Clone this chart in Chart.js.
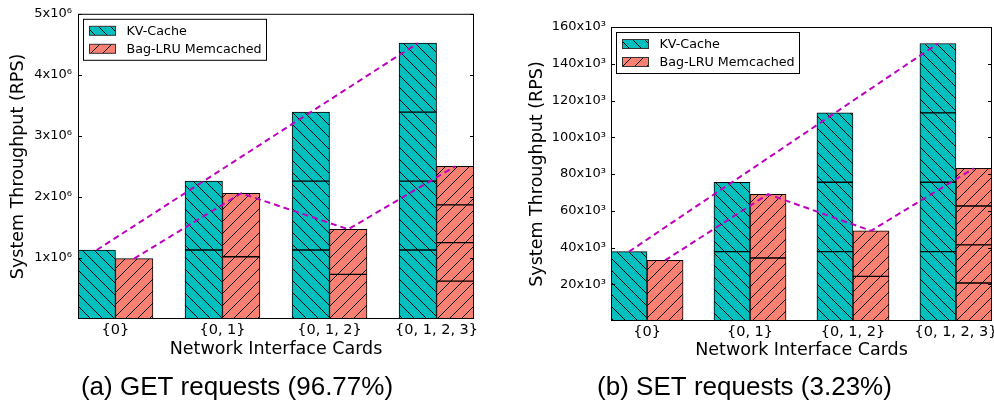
<!DOCTYPE html>
<html>
<head>
<meta charset="utf-8">
<script src="https://cdn.jsdelivr.net/npm/chart.js@4.4.1/dist/chart.umd.min.js"></script>
<style>
  html, body { margin: 0; padding: 0; background: #fff; }
  #wrap { display: flex; width: 994px; height: 403px; }
  canvas { display: block; }
</style>
</head>
<body>
<div id="wrap">
  <canvas id="getChart" width="497" height="403"></canvas>
  <canvas id="setChart" width="497" height="403"></canvas>
</div>
<script>
// ---- categories & names ----
const nicLabels   = ['{0}', '{0, 1}', '{0, 1, 2}', '{0, 1, 2, 3}'];
const seriesNames = ['KV-Cache', 'Bag-LRU Memcached'];

// ---- (a) GET requests, RPS per NIC segment ----
const getKvNic1  = [1.13e6, 1.13e6, 1.13e6, 1.13e6];
const getKvNic2  = [null,   1.13e6, 1.13e6, 1.13e6];
const getKvNic3  = [null,   null,   1.13e6, 1.13e6];
const getKvNic4  = [null,   null,   null,   1.13e6];
const getBagNic1 = [0.99e6, 1.02e6, 0.73e6, 0.62e6];
const getBagNic2 = [null,   1.04e6, 0.74e6, 0.63e6];
const getBagNic3 = [null,   null,   null,   0.62e6];
const getBagNic4 = [null,   null,   null,   0.63e6];
const getKvTop   = [1.13e6, 2.26e6, 3.39e6, 4.52e6];
const getBagTop  = [0.99e6, 2.06e6, 1.47e6, 2.50e6];
const getTicks      = [1e6, 2e6, 3e6, 4e6, 5e6];
const getTickLabels = ['1x10⁶', '2x10⁶', '3x10⁶', '4x10⁶', '5x10⁶'];

// ---- (b) SET requests ----
const setKvNic1  = [37.75e3, 37.75e3, 37.75e3, 37.75e3];
const setKvNic2  = [null,    37.75e3, 37.75e3, 37.75e3];
const setKvNic3  = [null,    null,    37.75e3, 37.75e3];
const setKvNic4  = [null,    null,    null,    37.75e3];
const setBagNic1 = [33.0e3,  34.3e3,  24.3e3,  20.7e3];
const setBagNic2 = [null,    34.7e3,  24.8e3,  20.7e3];
const setBagNic3 = [null,    null,    null,    21.2e3];
const setBagNic4 = [null,    null,    null,    20.5e3];
const setKvTop   = [37.75e3, 75.5e3, 113.25e3, 151.0e3];
const setBagTop  = [33.0e3,  69.0e3, 49.1e3,   83.1e3];
const setTicks      = [20e3, 40e3, 60e3, 80e3, 100e3, 120e3, 140e3, 160e3];
const setTickLabels = ['20x10³', '40x10³', '60x10³', '80x10³', '100x10³', '120x10³', '140x10³', '160x10³'];

// bar width in category units (matplotlib style: bars at i and i+w)
const BAR_W = 0.35;
const TEAL = '#00BFBF';
const SALMON = '#FA8072';
const MAGENTA = '#BF00BF';

Chart.defaults.color = '#000';
Chart.defaults.font.family = '"DejaVu Sans", sans-serif';

// hatch pattern like matplotlib '\\' and '//'
function hatch(color, back) {
    const s = 12;
    const c = document.createElement('canvas');
    c.width = s; c.height = s;
    const g = c.getContext('2d');
    g.fillStyle = color;
    g.fillRect(0, 0, s, s);
    g.strokeStyle = '#000';
    g.lineWidth = 1;
    g.beginPath();
    if (back) {
        g.moveTo(-2, -2); g.lineTo(s + 2, s + 2);
        g.moveTo(-2, s - 2); g.lineTo(2, s + 2);
        g.moveTo(s - 2, -2); g.lineTo(s + 2, 2);
    } else {
        g.moveTo(-2, s + 2); g.lineTo(s + 2, -2);
        g.moveTo(-2, 2); g.lineTo(2, -2);
        g.moveTo(s - 2, s + 2); g.lineTo(s + 2, s - 2);
    }
    g.stroke();
    return g.createPattern(c, 'repeat');
}
const kvFill = hatch(TEAL, true);
const bagFill = hatch(SALMON, false);

function toPoints(values, offset) {
    return values
        .map((v, i) => (v === null ? null : { x: i + offset, y: v }))
        .filter(p => p !== null);
}

function barSet(values, offset, fill, stack) {
    return {
        type: 'bar',
        data: toPoints(values, offset),
        backgroundColor: fill,
        borderColor: '#000',
        borderWidth: 1,
        borderSkipped: false,
        grouped: false,
        categoryPercentage: 1,
        barPercentage: 1,
        stack: stack,
        order: 1
    };
}

function lineSet(values, offset, stack) {
    return {
        type: 'line',
        data: toPoints(values, offset),
        borderColor: MAGENTA,
        borderWidth: 2,
        borderDash: [6, 4],
        pointRadius: 0,
        fill: false,
        tension: 0,
        stack: stack,
        order: 0
    };
}

// frame, inward ticks and the legend box inside the plot
const framePlugin = {
    id: 'frame',
    afterDatasetsDraw(chart, args, opts) {
        const { ctx, chartArea: a } = chart;
        const y = chart.scales.y;
        ctx.save();
        ctx.strokeStyle = '#000';
        ctx.lineWidth = 1;
        ctx.strokeRect(a.left + 0.5, a.top + 0.5, a.right - a.left - 1, a.bottom - a.top - 1);
        ctx.beginPath();
        y.ticks.forEach(t => {
            const py = Math.round(y.getPixelForValue(t.value)) + 0.5;
            ctx.moveTo(a.left, py); ctx.lineTo(a.left + 4, py);
            ctx.moveTo(a.right - 4, py); ctx.lineTo(a.right, py);
        });
        ctx.stroke();

        // legend
        ctx.font = '12.7px "DejaVu Sans"';
        const textW = Math.max(...opts.names.map(n => ctx.measureText(n).width));
        const bx = a.left + 5.5, by = a.top + 5.5;
        const bw = Math.round(6 + 26 + 11 + textW + 5), bh = 41;
        ctx.fillStyle = '#fff';
        ctx.fillRect(bx, by, bw, bh);
        ctx.strokeRect(bx, by, bw, bh);
        opts.names.forEach((name, i) => {
            const cy = by + 11.5 + i * 18;
            ctx.fillStyle = opts.fills[i];
            ctx.fillRect(bx + 6, cy - 4.5, 26, 9);
            ctx.strokeStyle = '#333';
            ctx.strokeRect(bx + 6, cy - 4.5, 26, 9);
            ctx.fillStyle = '#000';
            ctx.textBaseline = 'middle';
            ctx.textAlign = 'left';
            ctx.fillText(name, bx + 43, cy + 1);
        });
        ctx.restore();
    }
};

function makeChart(id, cfg) {
    const xTicks = nicLabels.map((_, i) => i + BAR_W);
    return new Chart(document.getElementById(id), {
        type: 'bar',
        data: {
            datasets: [
                barSet(cfg.kv[0], BAR_W / 2, kvFill, 'kv'),
                barSet(cfg.kv[1], BAR_W / 2, kvFill, 'kv'),
                barSet(cfg.kv[2], BAR_W / 2, kvFill, 'kv'),
                barSet(cfg.kv[3], BAR_W / 2, kvFill, 'kv'),
                barSet(cfg.bag[0], BAR_W * 1.5, bagFill, 'bag'),
                barSet(cfg.bag[1], BAR_W * 1.5, bagFill, 'bag'),
                barSet(cfg.bag[2], BAR_W * 1.5, bagFill, 'bag'),
                barSet(cfg.bag[3], BAR_W * 1.5, bagFill, 'bag'),
                lineSet(cfg.kvTop, BAR_W / 2, 'l1'),
                lineSet(cfg.bagTop, BAR_W * 1.5, 'l2')
            ]
        },
        options: {
            responsive: false,
            animation: false,
            layout: { padding: { left: 0, right: cfg.padRight, top: cfg.padTop, bottom: 0 } },
            scales: {
                x: {
                    type: 'linear',
                    min: 0,
                    max: nicLabels.length - 1 + 2 * BAR_W,
                    offset: false,
                    grid: { display: false, drawTicks: false },
                    border: { display: false },
                    afterBuildTicks: s => { s.ticks = xTicks.map(v => ({ value: v })); },
                    afterFit: s => { s.height = cfg.xHeight; s.paddingLeft = 0; s.paddingRight = 0; },
                    ticks: {
                        autoSkip: false,
                        maxRotation: 0,
                        padding: 2.3,
                        font: { size: 14.5 },
                        callback: (v, i) => nicLabels[i]
                    },
                    title: {
                        display: true,
                        text: 'Network Interface Cards',
                        font: { size: 17.5 },
                        padding: { top: 0, bottom: cfg.xTitlePad }
                    }
                },
                y: {
                    type: 'linear',
                    stacked: true,
                    min: 0,
                    max: cfg.yMax,
                    grid: { display: false, drawTicks: false },
                    border: { display: false },
                    afterBuildTicks: s => { s.ticks = cfg.ticks.map(v => ({ value: v })); },
                    afterFit: s => { s.width = cfg.yWidth; },
                    ticks: {
                        padding: cfg.yTickPad,
                        font: { size: 13 },
                        callback: (v, i) => cfg.tickLabels[i]
                    },
                    title: {
                        display: true,
                        text: 'System Throughput (RPS)',
                        font: { size: 17.5 },
                        padding: { top: cfg.yTitlePad, bottom: 0 }
                    }
                }
            },
            plugins: {
                legend: { display: false },
                tooltip: { enabled: false },
                title: {
                    display: true,
                    position: 'bottom',
                    text: cfg.caption,
                    color: '#000',
                    font: { family: '"Liberation Sans", Arial, sans-serif', size: 26, weight: 'normal' },
                    padding: 0
                },
                frame: { names: seriesNames, fills: [kvFill, bagFill] }
            }
        },
        plugins: [framePlugin]
    });
}

makeChart('getChart', {
    kv: [getKvNic1, getKvNic2, getKvNic3, getKvNic4],
    bag: [getBagNic1, getBagNic2, getBagNic3, getBagNic4],
    kvTop: getKvTop, bagTop: getBagTop,
    ticks: getTicks, tickLabels: getTickLabels, yMax: 5e6,
    caption: '(a) GET requests (96.77%)',
    padTop: 13, padRight: 23, yWidth: 78, xHeight: 52.8,
    xTitlePad: 11.8, yTitlePad: 7.5, yTickPad: 6
});

makeChart('setChart', {
    kv: [setKvNic1, setKvNic2, setKvNic3, setKvNic4],
    bag: [setBagNic1, setBagNic2, setBagNic3, setBagNic4],
    kvTop: setKvTop, bagTop: setBagTop,
    ticks: setTicks, tickLabels: setTickLabels, yMax: 160e3,
    caption: '(b) SET requests (3.23%)',
    padTop: 27, padRight: 2, yWidth: 114, xHeight: 50.8,
    xTitlePad: 10.8, yTitlePad: 29.5, yTickPad: 5
});
</script>
</body>
</html>
